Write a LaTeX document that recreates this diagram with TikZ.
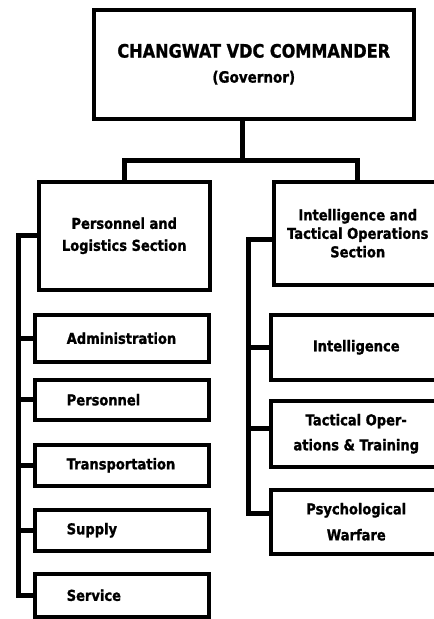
\documentclass[tikz,border=0pt]{standalone}
\usepackage{fontspec}
\newfontfamily\heavy{DejaVu Sans Bold}[FakeStretch=0.87,FakeBold=1.2]
\begin{document}
\begin{tikzpicture}[x=1pt,y=-1pt,
  frame/.style={draw, line width=3.5pt, inner sep=0pt, anchor=north west,
    font=\heavy\fontsize{15}{20}\selectfont, align=center},
  sub/.style={frame, text width=110pt, inner xsep=32pt, align=left},
  link/.style={line width=5pt, line join=miter}]
\useasboundingbox (0,0) rectangle (434,619);
\clip (0,0) rectangle (434,619);
\fill[white] (0,0) rectangle (434,619);
% top
\node[frame, minimum width=320pt, minimum height=109pt,
  font=\heavy\fontsize{15.5}{25}\selectfont] (top) at (92,8)
  {{\fontsize{18.5}{25}\selectfont CHANGWAT VDC COMMANDER}\\(Governor)};
% sections
\node[frame, minimum width=171pt, minimum height=108pt,
  font=\heavy\fontsize{15}{22}\selectfont] (lsec) at (37,180)
  {Personnel and\\Logistics Section};
\node[frame, minimum width=168pt, minimum height=103pt,
  font=\heavy\fontsize{15}{18.5}\selectfont] (rsec) at (272,180)
  {Intelligence and\\Tactical Operations\\Section};
% left subunits
\node[sub, minimum height=47pt] (adm) at (33,313) {Administration};
\node[sub, minimum height=40pt] (per) at (33,378) {Personnel};
\node[sub, minimum height=41pt] (tra) at (33,443) {Transportation};
\node[sub, minimum height=41pt] (sup) at (33,508) {Supply};
\node[sub, minimum height=43pt] (svc) at (33,572) {Service};
% right subunits
\node[frame, minimum width=171pt, minimum height=65pt] (int) at (269,313) {Intelligence};
\node[frame, minimum width=171pt, minimum height=66pt,
  font=\heavy\fontsize{15}{25}\selectfont] (tac) at (269,399) {Tactical Oper-\\ations \& Training};
\node[frame, minimum width=171pt, minimum height=64pt,
  font=\heavy\fontsize{15}{26}\selectfont] (psy) at (269,488) {Psychological\\Warfare};
% connectors
\coordinate (bar) at (242,160);
\draw[link] (top.south -| bar) -- (bar);
\draw[link] (lsec.north) |- (bar) -| (rsec.north);
\coordinate (lsp) at (18,238);
\draw[link] (lsec.west) -| (lsp |- svc.west) -- (svc.west);
\foreach \n in {adm,per,tra,sup} \draw[link] (\n.west) -- (lsp |- \n.west);
\coordinate (rsp) at (248,238);
\draw[link] ([yshift=-6pt]rsec.west) -| ([yshift=8pt]psy.west -| rsp) -- ([yshift=8pt]psy.west);
\draw[link] (int.west) -- (int.west -| rsp);
\draw[link] ([yshift=5pt]tac.west) -- ([yshift=5pt]tac.west -| rsp);
\end{tikzpicture}
\end{document}
